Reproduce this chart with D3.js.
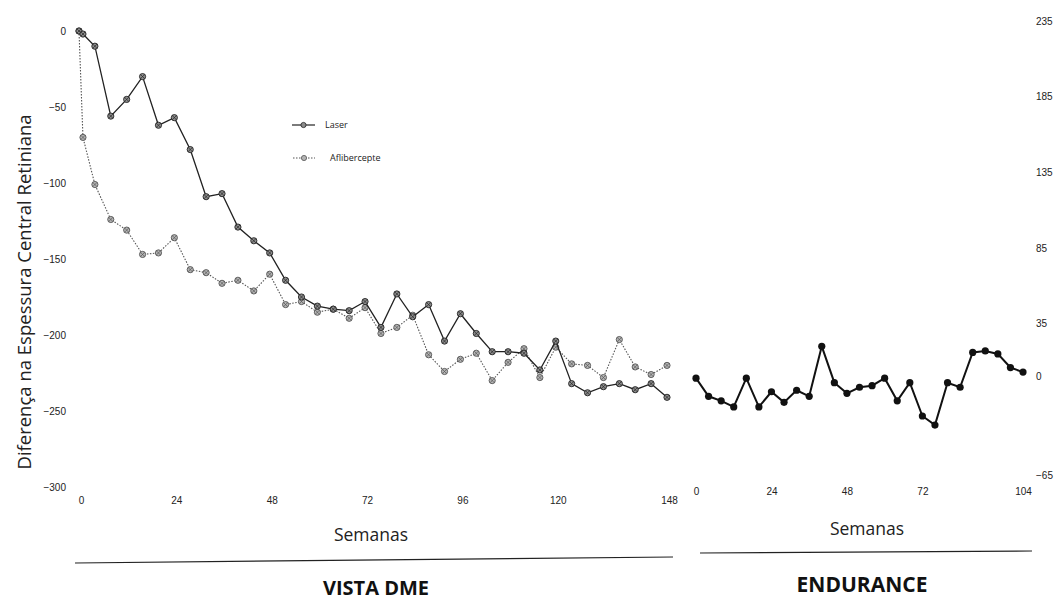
<!DOCTYPE html>
<html>
<head>
<meta charset="utf-8">
<script src="https://cdn.jsdelivr.net/npm/d3@7/dist/d3.min.js"></script>
<style>
  html, body { margin: 0; padding: 0; background: #fff; }
  svg { display: block; font-family: "Open Sans", "Noto Sans", sans-serif; }
  .tick text { fill: #222; }
</style>
</head>
<body>
<svg id="chart" width="1059" height="603"></svg>
<script>
// VISTA DME: weeks and mean change in central retinal thickness per arm
const vistaWeeks = [0, 1, 4, 8, 12, 16, 20, 24, 28, 32, 36, 40, 44, 48, 52, 56, 60, 64, 68, 72,
  76, 80, 84, 88, 92, 96, 100, 104, 108, 112, 116, 120, 124, 128, 132, 136, 140, 144, 148];
const laserValues = [0, -2, -10, -56, -45, -30, -62, -57, -78, -109, -107, -129, -138, -146, -164, -175, -181, -183, -184, -178,
  -195, -173, -188, -180, -204, -186, -199, -211, -211, -212, -223, -204, -232, -238, -234, -232, -236, -232, -241];
const afliValues = [0, -70, -101, -124, -131, -147, -146, -136, -157, -159, -166, -164, -171, -160, -180, -178, -185, -183, -189, -182,
  -199, -195, -187, -213, -224, -216, -212, -230, -218, -209, -228, -208, -219, -220, -228, -203, -221, -226, -220];

// ENDURANCE extension: weeks and change
const enduranceWeeks = [0, 4, 8, 12, 16, 20, 24, 28, 32, 36, 40, 44, 48, 52, 56, 60, 64, 68, 72, 76, 80, 84, 88, 92, 96, 100, 104];
const enduranceValues = [-1, -13, -16, -20, -1, -20, -10, -17, -9, -13, 20, -4, -11, -7, -6, -1, -16, -4, -26, -32, -4, -7, 16, 17, 15, 6, 3];

// Tick labels
const vistaXTicks = [0, 24, 48, 72, 96, 120, 148];
const vistaYTicks = [0, -50, -100, -150, -200, -250, -300];
const enduranceXTicks = [0, 24, 48, 72, 104];
const enduranceYTicks = [235, 185, 135, 85, 35, 0, -65];

const seriesNames = ["Laser", "Aflibercepte"];

const svg = d3.select("#chart");

// ---------- Scales ----------
const xL = d3.scaleLinear().domain([0, 148]).range([79, 667]);
const yL = d3.scaleLinear().domain([-300, 0]).range([487, 31]);
const xR = d3.scaleLinear().domain([0, 104]).range([696, 1023]);
const yR = d3.scaleLinear().domain([-65, 235]).range([475, 21]);

// ---------- Axes (labels only, no axis lines) ----------
function styleAxis(g) {
  g.select(".domain").remove();
  g.selectAll(".tick line").remove();
  g.selectAll(".tick text").attr("font-size", 10).attr("fill", "#222");
}

svg.append("g")
  .attr("transform", "translate(66,0)")
  .call(d3.axisLeft(yL).tickValues(vistaYTicks).tickSize(0).tickPadding(0).tickFormat(d3.format("d")))
  .call(styleAxis);

svg.append("g")
  .attr("transform", "translate(0,497)")
  .call(d3.axisBottom(xL).tickValues(vistaXTicks).tickSize(0).tickPadding(0))
  .call(styleAxis)
  .selectAll(".tick text").attr("dx", 2);

svg.append("g")
  .attr("transform", "translate(0,488)")
  .call(d3.axisBottom(xR).tickValues(enduranceXTicks).tickSize(0).tickPadding(0))
  .call(styleAxis);

svg.append("g")
  .attr("transform", "translate(1036,0)")
  .call(d3.axisRight(yR).tickValues(enduranceYTicks).tickSize(0).tickPadding(0).tickFormat(d3.format("d")))
  .call(styleAxis);

// ---------- VISTA DME lines ----------
const vistaLaser = vistaWeeks.map((w, i) => ({ w, v: laserValues[i] }));
const vistaAfli = vistaWeeks.map((w, i) => ({ w, v: afliValues[i] }));

const lineL = d3.line().x(d => xL(d.w)).y(d => yL(d.v));

const markerX = d3.symbol().type(d3.symbolX || d3.symbolCross).size(14);

function drawMarkers(data, fill, stroke) {
  const g = svg.append("g");
  const pts = g.selectAll("g").data(data).join("g")
    .attr("transform", d => `translate(${xL(d.w)},${yL(d.v)})`);
  pts.append("circle").attr("r", 3.1).attr("fill", fill).attr("stroke", stroke).attr("stroke-width", 0.9);
  pts.append("path").attr("d", markerX()).attr("fill", "none").attr("stroke", stroke).attr("stroke-width", 0.7);
}

// Aflibercepte: dotted grey
svg.append("path").datum(vistaAfli)
  .attr("d", lineL).attr("fill", "none")
  .attr("stroke", "#555").attr("stroke-width", 1.1).attr("stroke-dasharray", "1.5,1.5");
drawMarkers(vistaAfli, "#b4b4b4", "#555");

// Laser: solid dark
svg.append("path").datum(vistaLaser)
  .attr("d", lineL).attr("fill", "none")
  .attr("stroke", "#222").attr("stroke-width", 1.3);
drawMarkers(vistaLaser, "#8c8c8c", "#222");

// ---------- Legend ----------
const legend = svg.append("g");
const legendItems = [
  { name: seriesNames[0], y: 125, x0: 292, x1: 315, tx: 325, stroke: "#222", dash: null, fill: "#8c8c8c" },
  { name: seriesNames[1], y: 158, x0: 293, x1: 315, tx: 330, stroke: "#555", dash: "1.5,1.5", fill: "#b4b4b4" }
];
legendItems.forEach(it => {
  legend.append("line").attr("x1", it.x0).attr("x2", it.x1).attr("y1", it.y).attr("y2", it.y)
    .attr("stroke", it.stroke).attr("stroke-width", 1.2).attr("stroke-dasharray", it.dash);
  const m = legend.append("g").attr("transform", `translate(${(it.x0 + it.x1) / 2},${it.y})`);
  m.append("circle").attr("r", 2.6).attr("fill", it.fill).attr("stroke", it.stroke).attr("stroke-width", 0.8);
  legend.append("text").attr("x", it.tx).attr("y", it.y).attr("dy", "0.35em")
    .attr("font-size", 9).attr("fill", "#222").text(it.name);
});

// ---------- ENDURANCE line ----------
const endurance = enduranceWeeks.map((w, i) => ({ w, v: enduranceValues[i] }));
svg.append("path").datum(endurance)
  .attr("d", d3.line().x(d => xR(d.w)).y(d => yR(d.v)))
  .attr("fill", "none").attr("stroke", "#111").attr("stroke-width", 2);
svg.append("g").selectAll("circle").data(endurance).join("circle")
  .attr("cx", d => xR(d.w)).attr("cy", d => yR(d.v)).attr("r", 3.6).attr("fill", "#111");

// ---------- Titles ----------
svg.append("text")
  .attr("transform", "translate(31,292) rotate(-90)")
  .attr("text-anchor", "middle").attr("font-size", 18.5).attr("fill", "#222")
  .text("Diferença na Espessura Central Retiniana");

svg.append("text").attr("x", 371).attr("y", 541).attr("text-anchor", "middle")
  .attr("font-size", 17.5).attr("fill", "#222").text("Semanas");
svg.append("text").attr("x", 867).attr("y", 535).attr("text-anchor", "middle")
  .attr("font-size", 17.5).attr("fill", "#222").text("Semanas");

// Group separators
svg.append("line").attr("x1", 75).attr("y1", 563).attr("x2", 673).attr("y2", 557)
  .attr("stroke", "#222").attr("stroke-width", 1.2);
svg.append("line").attr("x1", 700).attr("y1", 553).attr("x2", 1032).attr("y2", 551)
  .attr("stroke", "#222").attr("stroke-width", 1.2);

svg.append("text").attr("x", 376).attr("y", 595).attr("text-anchor", "middle")
  .attr("font-size", 20).attr("font-weight", "bold").attr("fill", "#111").text("VISTA DME");
svg.append("text").attr("x", 862).attr("y", 592).attr("text-anchor", "middle")
  .attr("font-size", 21).attr("font-weight", "bold").attr("fill", "#111").text("ENDURANCE");
</script>
</body>
</html>
